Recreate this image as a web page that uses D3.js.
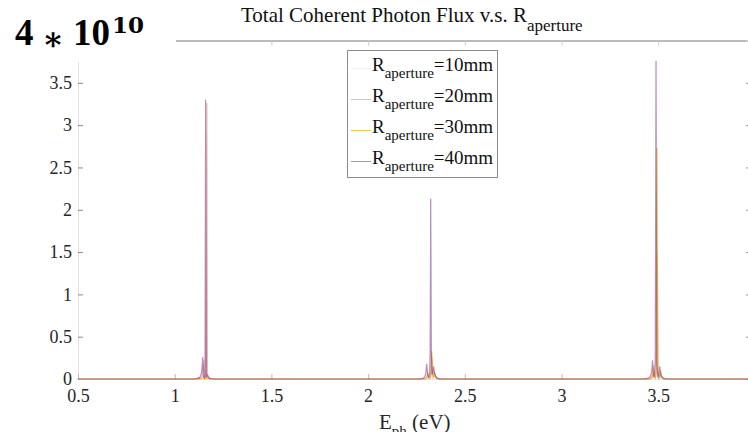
<!DOCTYPE html>
<html>
<head>
<meta charset="utf-8">
<script src="https://cdn.jsdelivr.net/npm/d3@7"></script>
<style>
	body { margin: 0; background: #fff; }
	svg { display: block; }
</style>
</head>
<body>
<svg></svg>
<script>
// photon energy grid (eV), shared by all four series
var energy = [0.50, 1.00,
	1.100, 1.118, 1.125, 1.130, 1.135, 1.140, 1.144, 1.148, 1.152, 1.156, 1.160, 1.163, 1.166, 1.170, 1.175, 1.180, 1.190, 1.220,
	1.50, 2.00,
	2.260, 2.280, 2.290, 2.297, 2.302, 2.306, 2.311, 2.316, 2.321, 2.324, 2.327, 2.330, 2.334, 2.338, 2.342, 2.347, 2.355, 2.365, 2.390,
	2.70, 3.00,
	3.420, 3.440, 3.452, 3.460, 3.466, 3.470, 3.474, 3.478, 3.483, 3.488, 3.492, 3.496, 3.501, 3.506, 3.511, 3.516, 3.523, 3.535, 3.560,
	3.80, 3.98];

// coherent photon flux, units of 4e10
var flux10 = [0, 0,
	0, 0.003, 0.008, 0.006, 0.015, 0.035, 0.07, 0.17, 0.02, 0.008, 0.03, 2.90, 0.015, 0.03, 0.015, 0.006, 0.002, 0,
	0, 0,
	0, 0, 0, 0.002, 0.01, 0.02, 0.01, 0.005, 0.01, 0.04, 0.10, 0.04, 0.01, 0.01, 0.02, 0.01, 0.003, 0, 0,
	0, 0,
	0, 0, 0, 0.003, 0.01, 0.015, 0.04, 0.01, 0.005, 0.03, 0.45, 0.03, 0.005, 0.01, 0.03, 0.01, 0.003, 0, 0,
	0, 0];
var flux20 = [0, 0,
	0, 0.004, 0.010, 0.008, 0.020, 0.045, 0.09, 0.22, 0.025, 0.01, 0.04, 3.26, 0.02, 0.04, 0.02, 0.008, 0.003, 0,
	0, 0,
	0, 0, 0, 0.005, 0.02, 0.05, 0.02, 0.01, 0.03, 0.12, 0.25, 0.10, 0.02, 0.03, 0.05, 0.02, 0.005, 0, 0,
	0, 0,
	0, 0, 0, 0.005, 0.02, 0.03, 0.09, 0.02, 0.01, 0.08, 1.47, 0.08, 0.01, 0.02, 0.06, 0.02, 0.005, 0, 0,
	0, 0];
var flux30 = [0, 0,
	0, 0, 0.002, 0.001, 0.004, 0.008, 0.015, 0.03, 0.005, 0.002, 0.008, 0.04, 0.004, 0.008, 0.004, 0.002, 0, 0,
	0, 0,
	0, 0, 0.005, 0.01, 0.03, 0.08, 0.03, 0.01, 0.05, 0.20, 0.33, 0.15, 0.03, 0.04, 0.08, 0.03, 0.01, 0, 0,
	0, 0,
	0, 0, 0.005, 0.01, 0.03, 0.05, 0.16, 0.04, 0.01, 0.15, 2.73, 0.15, 0.02, 0.03, 0.10, 0.03, 0.01, 0, 0,
	0, 0];
var flux40 = [0, 0,
	0, 0.005, 0.015, 0.01, 0.03, 0.06, 0.12, 0.26, 0.03, 0.01, 0.05, 3.30, 0.02, 0.05, 0.03, 0.01, 0.004, 0,
	0, 0,
	0, 0.005, 0.01, 0.03, 0.07, 0.18, 0.06, 0.02, 0.05, 0.30, 2.13, 0.30, 0.05, 0.07, 0.15, 0.06, 0.02, 0.005, 0,
	0, 0,
	0, 0.005, 0.01, 0.02, 0.05, 0.09, 0.22, 0.05, 0.02, 0.20, 3.76, 0.20, 0.03, 0.04, 0.15, 0.05, 0.02, 0.005, 0,
	0, 0];

var seriesNames = ["10mm", "20mm", "30mm", "40mm"];
var seriesColors = ["#0072BD", "#D95319", "#EDB120", "#7E2F8E"];
var seriesAlpha = [0.08, 0.4, 0.75, 0.55];
var xTicks = [0.5, 1, 1.5, 2, 2.5, 3, 3.5];
var yTicks = [0, 0.5, 1, 1.5, 2, 2.5, 3, 3.5];

function plot() {
	var serif = "Liberation Serif";

	// plot box
	var left = 78, right = 751, top = 40.5, bottom = 379;

	var svg = d3.select("svg")
		.attr("width", 748)
		.attr("height", 432);

	var xscale = d3.scaleLinear().domain([0.5, 3.98]).range([left, right]);
	var yscale = d3.scaleLinear().domain([0, 4]).range([bottom, top]);

	// axes, ticks point inwards
	var yaxis = svg.append("g")
		.attr("transform", "translate(" + left + ",0)")
		.call(d3.axisLeft(yscale).tickValues(yTicks).tickSize(-5).tickPadding(6).tickFormat(d3.format("")));
	yaxis.select(".domain").attr("stroke", "#e3e3e3");
	yaxis.selectAll(".tick line").attr("stroke", "#888");

	var xaxis = svg.append("g")
		.attr("transform", "translate(0," + bottom + ")")
		.call(d3.axisBottom(xscale).tickValues(xTicks).tickSize(-5).tickPadding(10).tickFormat(d3.format("")));
	xaxis.select(".domain").attr("stroke", "#e3e3e3");
	xaxis.selectAll(".tick line").attr("stroke", "#bbb");

	svg.selectAll(".tick text")
		.style("font-family", serif)
		.style("font-size", "18px")
		.attr("fill", "#262626");

	var topaxis = svg.append("g")
		.attr("transform", "translate(0," + top + ")")
		.call(d3.axisTop(xscale).tickValues(xTicks).tickSize(-5).tickFormat(""));
	topaxis.select(".domain").attr("stroke", "#777");
	topaxis.selectAll(".tick line").attr("stroke", "#ccc");

	var rightaxis = svg.append("g")
		.attr("transform", "translate(" + right + ",0)")
		.call(d3.axisRight(yscale).tickValues(yTicks).tickSize(-5).tickFormat(""));
	rightaxis.select(".domain").attr("stroke", "#e3e3e3");
	rightaxis.selectAll(".tick line").attr("stroke", "#999");

	// the lines (small horizontal nudge so overlapping spikes sit side by side)
	var allFlux = [flux10, flux20, flux30, flux40];
	var nudge = [0, 0.6, 0.4, -0.6];
	var line = d3.line()
		.x(function(d, i) { return xscale(energy[i]); })
		.y(function(d) { return yscale(d); });

	allFlux.forEach(function(values, k) {
		svg.append("path")
			.datum(values)
			.attr("transform", "translate(" + nudge[k] + ",0)")
			.attr("fill", "none")
			.attr("stroke", seriesColors[k])
			.attr("stroke-opacity", seriesAlpha[k])
			.attr("stroke-width", 1.2)
			.attr("d", line);
	});

	// white patch over the top-left corner (pasted label)
	svg.append("rect")
		.attr("x", 0).attr("y", 0)
		.attr("width", 176).attr("height", 62)
		.attr("fill", "#fff");

	var scaleLabel = svg.append("g")
		.style("font-family", serif)
		.style("font-weight", "bold")
		.attr("fill", "#000");
	scaleLabel.append("text").attr("x", 15).attr("y", 45).style("font-size", "37px").text("4");
	scaleLabel.append("text").attr("x", 42).attr("y", 50).style("font-size", "32px").style("font-family", "DejaVu Serif").text("\u2217");
	scaleLabel.append("text").attr("x", 73).attr("y", 45).style("font-size", "37px").text("10");
	scaleLabel.append("text").attr("x", 112).attr("y", 33).style("font-size", "23px").style("font-family", "DejaVu Serif").text("10");

	// title
	var title = svg.append("text")
		.attr("x", 241)
		.attr("y", 22)
		.style("font-family", serif)
		.style("font-size", "21px")
		.attr("fill", "#111");
	title.append("tspan").text("Total Coherent Photon Flux v.s. R");
	title.append("tspan").style("font-size", "17px").attr("dy", 8.5).text("aperture");

	// x label
	var xlabel = svg.append("text")
		.attr("x", 379)
		.attr("y", 429)
		.style("font-family", serif)
		.style("font-size", "21px")
		.attr("fill", "#262626");
	xlabel.append("tspan").text("E");
	xlabel.append("tspan").style("font-size", "15px").attr("dy", 7).text("ph");
	xlabel.append("tspan").attr("dy", -7).text(" (eV)");

	// legend
	var legend = svg.append("g");
	legend.append("rect")
		.attr("x", 347.5).attr("y", 50.5)
		.attr("width", 150).attr("height", 127)
		.attr("fill", "#fff")
		.attr("stroke", "#8c8c8c");

	seriesNames.forEach(function(name, k) {
		var base = 71 + k * 31;
		legend.append("line")
			.attr("x1", 351).attr("x2", 371)
			.attr("y1", base - 2.5).attr("y2", base - 2.5)
			.attr("stroke", seriesColors[k])
			.attr("stroke-opacity", seriesAlpha[k]);
		var t = legend.append("text")
			.attr("x", 372)
			.attr("y", base)
			.style("font-family", serif)
			.style("font-size", "19px")
			.attr("fill", "#111");
		t.append("tspan").text("R");
		t.append("tspan").style("font-size", "15px").attr("dy", 6.5).text("aperture");
		t.append("tspan").attr("dy", -6.5).text("=" + name);
	});
}

plot();
</script>
</body>
</html>
